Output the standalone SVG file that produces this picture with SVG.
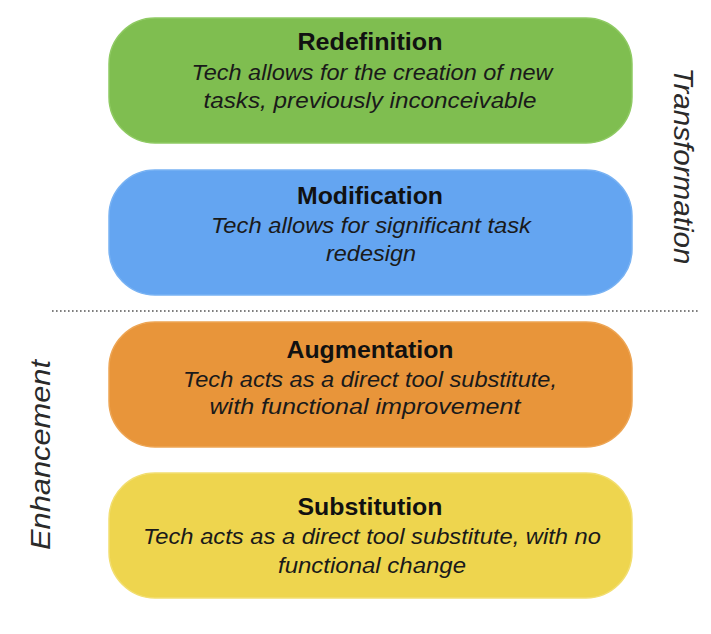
<svg xmlns="http://www.w3.org/2000/svg" width="711" height="634" viewBox="0 0 711 634">
<style>
.box{stroke-width:1.5}
.t{font-family:"Liberation Sans",Arial,sans-serif;font-weight:bold;font-size:23px;fill:#111;text-anchor:middle}
.s{font-family:"Liberation Sans",Arial,sans-serif;font-style:italic;font-size:22px;fill:#1a1a1a;text-anchor:middle}
.side{font-family:"Liberation Sans",Arial,sans-serif;font-style:italic;font-size:28px;fill:#2a2a2a;text-anchor:middle}
</style>
<rect width="711" height="634" fill="#ffffff"/>
<g id="redefinition">
<rect class="box" x="109" y="18" width="523" height="125" rx="46" fill="#7fbe50" stroke="#8fca63"/>
<text class="t" x="370" y="50" textLength="145" lengthAdjust="spacingAndGlyphs">Redefinition</text>
<text class="s" x="372" y="80" textLength="361" lengthAdjust="spacingAndGlyphs">Tech allows for the creation of new</text>
<text class="s" x="370" y="108" textLength="333" lengthAdjust="spacingAndGlyphs">tasks, previously inconceivable</text>
</g>
<g id="modification">
<rect class="box" x="109" y="170" width="523" height="125" rx="46" fill="#64a5f1" stroke="#78b2f3"/>
<text class="t" x="370" y="204" textLength="146" lengthAdjust="spacingAndGlyphs">Modification</text>
<text class="s" x="371" y="233" textLength="320" lengthAdjust="spacingAndGlyphs">Tech allows for significant task</text>
<text class="s" x="371" y="261" textLength="90" lengthAdjust="spacingAndGlyphs">redesign</text>
</g>
<g id="augmentation">
<rect class="box" x="109" y="322" width="523" height="125" rx="46" fill="#e8953a" stroke="#eda554"/>
<text class="t" x="370" y="358" textLength="167" lengthAdjust="spacingAndGlyphs">Augmentation</text>
<text class="s" x="370" y="387" textLength="374" lengthAdjust="spacingAndGlyphs">Tech acts as a direct tool substitute,</text>
<text class="s" x="365" y="414" textLength="311" lengthAdjust="spacingAndGlyphs">with functional improvement</text>
</g>
<g id="substitution">
<rect class="box" x="109" y="473" width="523" height="125" rx="46" fill="#eed54e" stroke="#f2de70"/>
<text class="t" x="370" y="515" textLength="145" lengthAdjust="spacingAndGlyphs">Substitution</text>
<text class="s" x="372" y="544" textLength="458" lengthAdjust="spacingAndGlyphs">Tech acts as a direct tool substitute, with no</text>
<text class="s" x="372" y="573" textLength="188" lengthAdjust="spacingAndGlyphs">functional change</text>
</g>
<g id="connectors">
<line x1="52" y1="311" x2="700" y2="311" stroke="#555" stroke-width="1.6" stroke-dasharray="1.6 2.4"/>
</g>
<g id="transformation">
<text class="side" transform="translate(674,166) rotate(90)" textLength="197" lengthAdjust="spacingAndGlyphs">Transformation</text>
</g>
<g id="enhancement">
<text class="side" transform="translate(50,455) rotate(-90)" textLength="190" lengthAdjust="spacingAndGlyphs">Enhancement</text>
</g>
</svg>
